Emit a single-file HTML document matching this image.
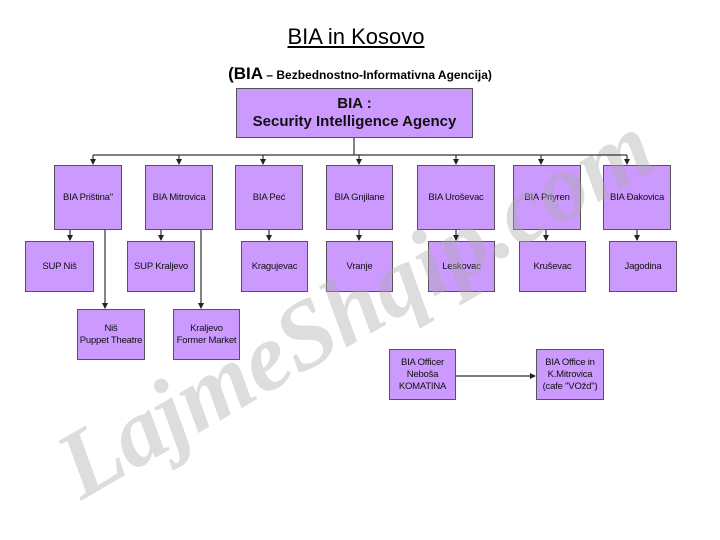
<!DOCTYPE html>
<html><head><meta charset="utf-8"><style>
body{margin:0;background:#fff;width:720px;height:540px;overflow:hidden;position:relative;font-family:"Liberation Sans",sans-serif}
.b{position:absolute;background:#cc99ff;border:1px solid #555;box-sizing:border-box;display:flex;align-items:center;justify-content:center;text-align:center;font-size:9.5px;line-height:12px;color:#111;white-space:nowrap;letter-spacing:-0.2px}
.t{position:absolute;left:0;width:720px;text-align:center}
.wm{position:absolute;left:355px;top:305px;transform:translate(-50%,-50%) rotate(-30deg);font-family:"Liberation Serif",serif;font-weight:bold;font-style:italic;font-size:96px;color:rgba(170,170,170,0.4);white-space:nowrap}
svg{z-index:2}
</style></head><body>
<div class="t" style="top:24px;font-size:22px;text-decoration:underline;left:-4px">BIA in Kosovo</div>
<div class="t" style="top:64px;font-size:12px;font-weight:bold"><span style="font-size:17px">(BIA</span> – Bezbednostno-Informativna Agencija)</div>
<div class="b" style="left:236px;top:88px;width:237px;height:50px;font-size:15px;line-height:18px;font-weight:bold;letter-spacing:0">BIA :<br>Security Intelligence Agency</div>
<div class="b" style="left:54px;top:165px;width:68px;height:65px">BIA Priština"</div>
<div class="b" style="left:145px;top:165px;width:68px;height:65px">BIA Mitrovica</div>
<div class="b" style="left:235px;top:165px;width:68px;height:65px">BIA Peć</div>
<div class="b" style="left:326px;top:165px;width:67px;height:65px">BIA Gnjilane</div>
<div class="b" style="left:417px;top:165px;width:78px;height:65px">BIA Uroševac</div>
<div class="b" style="left:513px;top:165px;width:68px;height:65px">BIA Priyren</div>
<div class="b" style="left:603px;top:165px;width:68px;height:65px">BIA Đakovica</div>
<div class="b" style="left:25px;top:241px;width:69px;height:51px">SUP Niš</div>
<div class="b" style="left:127px;top:241px;width:68px;height:51px">SUP Kraljevo</div>
<div class="b" style="left:241px;top:241px;width:67px;height:51px">Kragujevac</div>
<div class="b" style="left:326px;top:241px;width:67px;height:51px">Vranje</div>
<div class="b" style="left:428px;top:241px;width:67px;height:51px">Leskovac</div>
<div class="b" style="left:519px;top:241px;width:67px;height:51px">Kruševac</div>
<div class="b" style="left:609px;top:241px;width:68px;height:51px">Jagodina</div>
<div class="b" style="left:77px;top:309px;width:68px;height:51px">Niš<br>Puppet Theatre</div>
<div class="b" style="left:173px;top:309px;width:67px;height:51px">Kraljevo<br>Former Market</div>
<div class="b" style="left:389px;top:349px;width:67px;height:51px">BIA Officer<br>Neboša<br>KOMATINA</div>
<div class="b" style="left:536px;top:349px;width:68px;height:51px">BIA Office in<br>K.Mitrovica<br>(cafe "VOžd")</div>
<svg style="position:absolute;left:0;top:0" width="720" height="540">
<defs><marker id="a" markerWidth="6" markerHeight="6" refX="5" refY="3" orient="auto" markerUnits="userSpaceOnUse"><path d="M0,0L6,3L0,6z" fill="#222"/></marker></defs>
<g stroke="#333" stroke-width="1.2" fill="none">
<path d="M354,138V155M93,155H627"/>
<g marker-end="url(#a)">
<path d="M93,155V164"/><path d="M179,155V164"/><path d="M263,155V164"/><path d="M359,155V164"/><path d="M456,155V164"/><path d="M541,155V164"/><path d="M627,155V164"/>
<path d="M70,230V240"/><path d="M161,230V240"/><path d="M269,230V240"/><path d="M359,230V240"/><path d="M456,230V240"/><path d="M546,230V240"/><path d="M637,230V240"/>
<path d="M105,230V308"/><path d="M201,230V308"/>
<path d="M456,376H535"/>
</g>
</g></svg>
<div class="wm">LajmeShqip.com</div>
</body></html>
